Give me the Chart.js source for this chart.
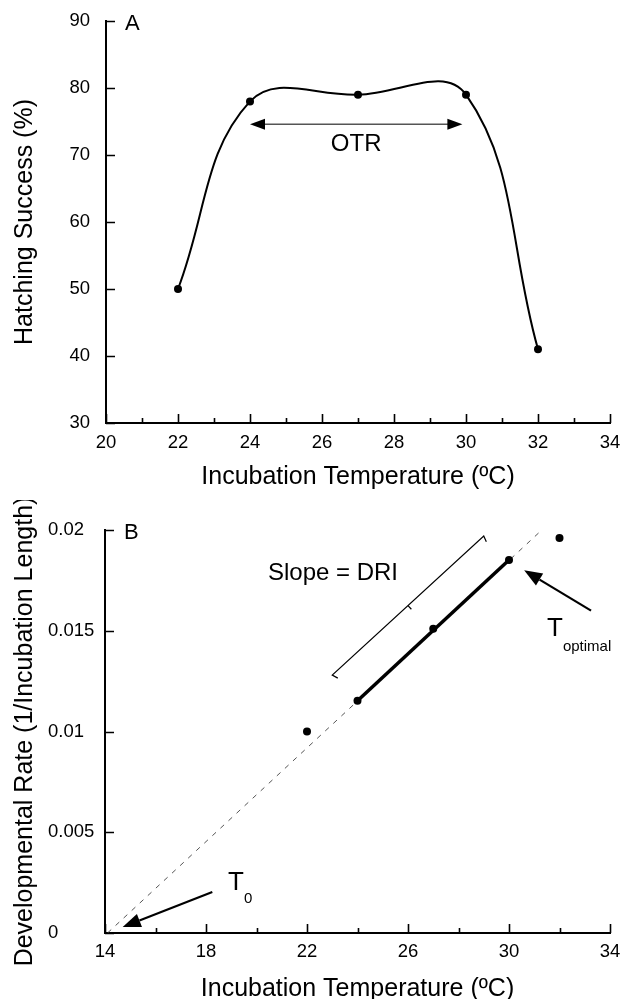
<!DOCTYPE html>
<html>
<head>
<meta charset="utf-8">
<script src="https://cdn.jsdelivr.net/npm/chart.js@4.4.1/dist/chart.umd.min.js"></script>
<style>
  body { margin: 0; background: #fff; }
  canvas { display: block; }
</style>
</head>
<body>
<canvas id="chartA" width="622" height="500"></canvas>
<canvas id="chartB" width="622" height="499"></canvas>
<script>
// Panel A - hatching success vs temperature
const tempA = [22, 24, 27, 30, 32];
const hatchA = [50, 78, 79, 79, 41];
const xTicksA = [20, 22, 24, 26, 28, 30, 32, 34];
const xMinorA = [21, 23, 25, 27, 29, 31, 33];
const yTicksA = [30, 40, 50, 60, 70, 80, 90];

// Panel B - developmental rate vs temperature
const tempB = [22, 24, 27, 30, 32];
const rateB = [0.0100, 0.01153, 0.0151, 0.01851, 0.0196];
const fitTemp = [24, 30];
const fitRate = [0.01153, 0.01851];
const extTemp = [14.1, 31.3];
const extRate = [0, 0.0200];
const xTicksB = [14, 18, 22, 26, 30, 34];
const xMinorB = [16, 20, 24, 28, 32];
const yTicksB = [0, 0.005, 0.01, 0.015, 0.02];
const yLabelsB = ['0', '0.005', '0.01', '0.015', '0.02'];

// annotations, in data units
const otrRange = [24, 29.9];
const otrLevel = 74.6;
const otrText = [26.95, 71.6];
const bracketTemp = [23, 29];
const bracketRate = [0.0128, 0.0197];
const slopeText = [23.03, 0.01787];
const tOptArrow = [33.25, 0.0160, 30.6, 0.0180];
const tOptText = [31.5, 0.01475];
const t0Arrow = [18.25, 0.00203, 14.7, 0.0003];
const t0Text = [18.87, 0.00213];

const FONT = '"Liberation Sans", Arial, Helvetica, sans-serif';

function toPoints(xs, ys) {
    return xs.map((v, i) => ({x: v, y: ys[i]}));
}

// filled arrow head with tip at (tx, ty), coming from (fx, fy)
function arrowHead(ctx, fx, fy, tx, ty, len, halfW) {
    const d = Math.hypot(tx - fx, ty - fy);
    const ux = (tx - fx) / d, uy = (ty - fy) / d;
    const bx = tx - ux * len, by = ty - uy * len;
    ctx.beginPath();
    ctx.moveTo(tx, ty);
    ctx.lineTo(bx - uy * halfW, by + ux * halfW);
    ctx.lineTo(bx + uy * halfW, by - ux * halfW);
    ctx.closePath();
    ctx.fill();
    return [bx, by];
}

function arrow(ctx, fx, fy, tx, ty, len, halfW, lw) {
    const base = arrowHead(ctx, fx, fy, tx, ty, len, halfW);
    ctx.lineWidth = lw;
    ctx.beginPath();
    ctx.moveTo(fx, fy);
    ctx.lineTo(base[0], base[1]);
    ctx.stroke();
}

// inward tick marks
function drawTicks(chart, major, minor, yTicks) {
    const {ctx, chartArea, scales: {x, y}} = chart;
    ctx.save();
    ctx.strokeStyle = '#000';
    ctx.lineWidth = 1.6;
    ctx.beginPath();
    major.forEach(v => {
        const p = Math.round(x.getPixelForValue(v)) + 0.5;
        ctx.moveTo(p, chartArea.bottom);
        ctx.lineTo(p, chartArea.bottom - 9);
    });
    minor.forEach(v => {
        const p = Math.round(x.getPixelForValue(v)) + 0.5;
        ctx.moveTo(p, chartArea.bottom);
        ctx.lineTo(p, chartArea.bottom - 5);
    });
    yTicks.forEach(v => {
        const p = Math.round(y.getPixelForValue(v)) + 0.5;
        ctx.moveTo(chartArea.left, p);
        ctx.lineTo(chartArea.left + 9, p);
    });
    ctx.stroke();
    ctx.restore();
}

// fixed scale boxes so the plot area lands where the reference has it
function fixX(h) {
    return s => { s.height = h; s.paddingLeft = 0; s.paddingRight = 0; };
}
function fixY(w) {
    return s => { s.width = w; s.paddingTop = 0; s.paddingBottom = 0; };
}

const annotA = {
    id: 'annotA',
    afterDraw(chart) {
        const {ctx, scales: {x, y}} = chart;
        drawTicks(chart, xTicksA, xMinorA, yTicksA);
        ctx.save();
        ctx.fillStyle = '#000';
        // OTR double arrow
        const yy = y.getPixelForValue(otrLevel);
        const xa = x.getPixelForValue(otrRange[0]);
        const xb = x.getPixelForValue(otrRange[1]);
        ctx.strokeStyle = '#555';
        ctx.lineWidth = 1.4;
        ctx.beginPath();
        ctx.moveTo(xa + 12, yy);
        ctx.lineTo(xb - 12, yy);
        ctx.stroke();
        arrowHead(ctx, xb, yy, xa, yy, 15, 5.5);
        arrowHead(ctx, xa, yy, xb, yy, 15, 5.5);

        ctx.font = '24px ' + FONT;
        ctx.textAlign = 'center';
        ctx.textBaseline = 'middle';
        ctx.fillText('OTR', x.getPixelForValue(otrText[0]), y.getPixelForValue(otrText[1]));

        ctx.font = '22px ' + FONT;
        ctx.textAlign = 'left';
        ctx.fillText('A', x.getPixelForValue(20.53), y.getPixelForValue(89.55));
        ctx.restore();
    }
};

const annotB = {
    id: 'annotB',
    afterDraw(chart) {
        const {ctx, scales: {x, y}} = chart;
        drawTicks(chart, xTicksB, xMinorB, yTicksB);
        ctx.save();
        ctx.fillStyle = '#000';
        ctx.strokeStyle = '#000';

        // y tick labels, left aligned
        ctx.font = '18.5px ' + FONT;
        ctx.textAlign = 'left';
        ctx.textBaseline = 'middle';
        yTicksB.forEach((v, i) => {
            ctx.fillText(yLabelsB[i], 48, y.getPixelForValue(v));
        });

        // bracket for slope
        const p1x = x.getPixelForValue(bracketTemp[0]), p1y = y.getPixelForValue(bracketRate[0]);
        const p2x = x.getPixelForValue(bracketTemp[1]), p2y = y.getPixelForValue(bracketRate[1]);
        const d = Math.hypot(p2x - p1x, p2y - p1y);
        const ux = (p2x - p1x) / d, uy = (p2y - p1y) / d;
        const nx = -uy, ny = ux;
        const mx = (p1x + p2x) / 2, my = (p1y + p2y) / 2;
        ctx.lineWidth = 1.2;
        ctx.beginPath();
        ctx.moveTo(p1x + nx * 6 + ux * 2, p1y + ny * 6 + uy * 2);
        ctx.lineTo(p1x, p1y);
        ctx.lineTo(p2x, p2y);
        ctx.lineTo(p2x + nx * 6 - ux * 2, p2y + ny * 6 - uy * 2);
        ctx.moveTo(mx, my);
        ctx.lineTo(mx + nx * 5, my + ny * 5);
        ctx.stroke();

        ctx.font = '24px ' + FONT;
        ctx.textAlign = 'center';
        ctx.fillText('Slope = DRI', x.getPixelForValue(slopeText[0]), y.getPixelForValue(slopeText[1]));

        // arrows
        arrow(ctx, x.getPixelForValue(tOptArrow[0]), y.getPixelForValue(tOptArrow[1]),
            x.getPixelForValue(tOptArrow[2]), y.getPixelForValue(tOptArrow[3]), 18, 7, 2.2);
        arrow(ctx, x.getPixelForValue(t0Arrow[0]), y.getPixelForValue(t0Arrow[1]),
            x.getPixelForValue(t0Arrow[2]), y.getPixelForValue(t0Arrow[3]), 18, 7, 2.2);

        // T labels with subscripts
        ctx.textAlign = 'left';
        ctx.textBaseline = 'alphabetic';
        let tx = x.getPixelForValue(tOptText[0]), ty = y.getPixelForValue(tOptText[1]);
        ctx.font = '26px ' + FONT;
        ctx.fillText('T', tx, ty);
        ctx.font = '15px ' + FONT;
        ctx.fillText('optimal', tx + 16, ty + 15);
        tx = x.getPixelForValue(t0Text[0]);
        ty = y.getPixelForValue(t0Text[1]);
        ctx.font = '26px ' + FONT;
        ctx.fillText('T', tx, ty);
        ctx.font = '15px ' + FONT;
        ctx.fillText('0', tx + 16, ty + 13);

        ctx.font = '22px ' + FONT;
        ctx.textBaseline = 'middle';
        ctx.fillText('B', x.getPixelForValue(14.75), y.getPixelForValue(0.01985));
        ctx.restore();
    }
};

const tickFont = {family: FONT, size: 18.5};
const titleFont = {family: FONT, size: 25, lineHeight: 1};

new Chart(document.getElementById('chartA'), {
    type: 'scatter',
    data: {
        datasets: [{
            data: toPoints(tempA, hatchA),
            showLine: true,
            tension: 0.4,
            borderColor: '#000',
            borderWidth: 2,
            pointRadius: 4,
            pointBackgroundColor: '#000',
            pointBorderWidth: 0
        }]
    },
    options: {
        responsive: false,
        animation: false,
        layout: {padding: {left: 0, right: 12, top: 21, bottom: 0}},
        plugins: {legend: {display: false}, tooltip: {enabled: false}},
        scales: {
            x: {
                type: 'linear', min: 20, max: 34,
                afterFit: fixX(77),
                grid: {display: false, tickLength: 0},
                border: {display: true, color: '#000', width: 2},
                ticks: {stepSize: 2, padding: 9, color: '#000', font: tickFont},
                title: {display: true, text: 'Incubation Temperature (ºC)', color: '#000',
                    font: titleFont, padding: {top: 0, bottom: 10.5}}
            },
            y: {
                min: 30, max: 90,
                afterFit: fixY(106),
                grid: {display: false, tickLength: 0},
                border: {display: true, color: '#000', width: 2},
                ticks: {stepSize: 10, padding: 16, color: '#000', font: tickFont},
                title: {display: true, text: 'Hatching Success (%)', color: '#000',
                    font: titleFont, padding: {top: 12.5, bottom: 0}}
            }
        }
    },
    plugins: [annotA]
});

new Chart(document.getElementById('chartB'), {
    type: 'scatter',
    data: {
        datasets: [{
            data: toPoints(tempB, rateB),
            pointRadius: 4,
            pointBackgroundColor: '#000',
            pointBorderWidth: 0
        }, {
            data: toPoints(fitTemp, fitRate),
            showLine: true,
            borderColor: '#000',
            borderWidth: 3.5,
            pointRadius: 0
        }, {
            data: toPoints(extTemp, extRate),
            showLine: true,
            borderColor: '#555',
            borderWidth: 1,
            borderDash: [5, 6],
            pointRadius: 0
        }]
    },
    options: {
        responsive: false,
        animation: false,
        layout: {padding: {left: 0, right: 12, top: 30, bottom: 0}},
        plugins: {legend: {display: false}, tooltip: {enabled: false}},
        scales: {
            x: {
                type: 'linear', min: 14, max: 34,
                afterFit: fixX(66),
                grid: {display: false, tickLength: 0},
                border: {display: true, color: '#000', width: 2},
                ticks: {stepSize: 4, padding: 8, color: '#000', font: tickFont},
                title: {display: true, text: 'Incubation Temperature (ºC)', color: '#000',
                    font: titleFont, padding: {top: 0, bottom: -2.5}}
            },
            y: {
                min: 0, max: 0.02,
                afterFit: fixY(105),
                grid: {display: false, tickLength: 0},
                border: {display: true, color: '#000', width: 2},
                ticks: {display: false, stepSize: 0.005},
                title: {display: true, text: 'Developmental Rate (1/Incubation Length)', color: '#000',
                    font: titleFont, padding: {top: 12.5, bottom: 0}}
            }
        }
    },
    plugins: [annotB]
});
</script>
</body>
</html>
